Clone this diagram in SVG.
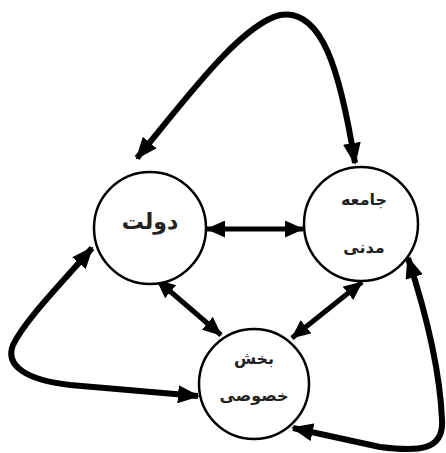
<svg xmlns="http://www.w3.org/2000/svg" width="446" height="453" viewBox="0 0 446 453">
<style>
.node{fill:#fff;stroke:#000;stroke-width:2.5}
.lbl{font-family:"DejaVu Sans",sans-serif;font-weight:bold;fill:#222;text-anchor:middle}
.curve{fill:none;stroke:#000;stroke-width:6;marker-start:url(#ah);marker-end:url(#ah)}
.str{fill:none;stroke:#000;stroke-width:5;marker-start:url(#ah2);marker-end:url(#ah2)}
</style>
<defs>
<marker id="ah" viewBox="0 0 22 18" refX="20" refY="9" markerWidth="22" markerHeight="18" markerUnits="userSpaceOnUse" orient="auto-start-reverse"><path d="M0,0 L22,9 L0,18 z" fill="#000"/></marker>
<marker id="ah2" viewBox="0 0 19 17" refX="18" refY="8.5" markerWidth="19" markerHeight="17" markerUnits="userSpaceOnUse" orient="auto-start-reverse"><path d="M0,0 L19,8.5 L0,17 z" fill="#000"/></marker>
</defs>
<rect width="446" height="453" fill="#fff"/>
<g id="connectors">
<path class="curve" d="M137,158 C185,100 240,25 280,15 C322,8 340,70 355,163"/>
<path class="curve" d="M92,248 C60,285 25,320 13,345 C5,365 25,380 70,385 L198,396"/>
<path class="curve" d="M408,258 C425,310 440,370 442,420 C444,450 420,452 380,447 L293,428"/>
<path class="str" d="M207,229 L303,229"/>
<path class="str" d="M157,280 L221,335"/>
<path class="str" d="M362,282 L292,338"/>
</g>
<g id="dolat">
<circle class="node" cx="150" cy="228" r="56"/>
<text class="lbl" x="150" y="229" font-size="22">دولت</text>
</g>
<g id="jameh-madani">
<circle class="node" cx="361" cy="224" r="57"/>
<text class="lbl" x="364" y="205" font-size="16">جامعه</text>
<text class="lbl" x="364" y="253" font-size="16">مدنی</text>
</g>
<g id="bakhsh-khosusi">
<circle class="node" cx="254" cy="384" r="55"/>
<text class="lbl" x="254" y="364" font-size="16">بخش</text>
<text class="lbl" x="254" y="401" font-size="16">خصوصی</text>
</g>
</svg>
